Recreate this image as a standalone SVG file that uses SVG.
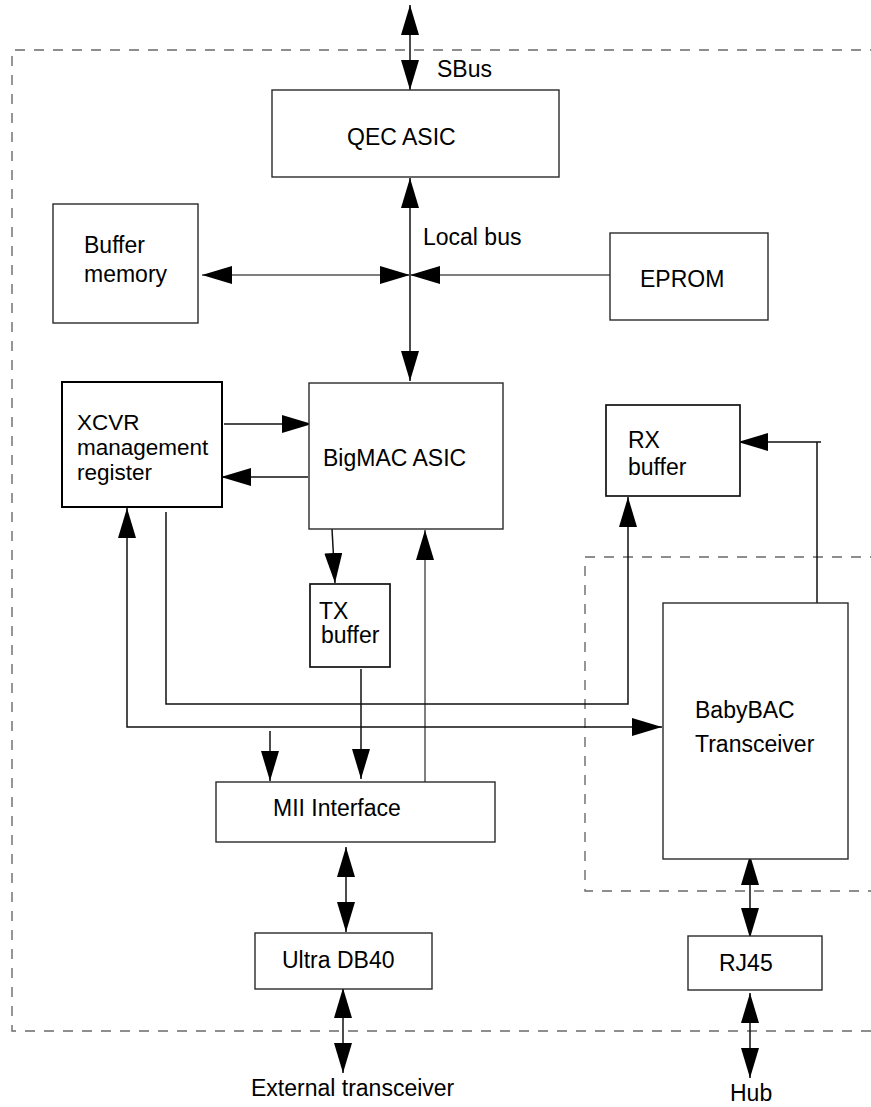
<svg xmlns="http://www.w3.org/2000/svg" width="871" height="1107" viewBox="0 0 871 1107">
<style>
.box{fill:#fff;stroke:#2a2a2a;stroke-width:1.4}
.bold{stroke:#000;stroke-width:2}
.t{font-family:"Liberation Sans",Arial,sans-serif;font-size:23px;fill:#000}
.ln{fill:none;stroke:#111;stroke-width:1.5}
.gl{fill:none;stroke:#555;stroke-width:1.5}
.ds{fill:none;stroke:#6a6a6a;stroke-width:1.4;stroke-dasharray:10 9}
</style>
<defs>
<marker id="ah" markerUnits="userSpaceOnUse" markerWidth="30" markerHeight="18" viewBox="0 0 30 18" refX="30" refY="9" orient="auto-start-reverse">
<path d="M0,0 L30,9 L0,18 z" fill="#000"/>
</marker>
</defs>
<g id="frames">
<path class="ds" d="M880,50 H12 V1031 H880"/>
<path class="ds" d="M880,557 H585 V891 H880"/>
</g>
<g id="connectors">
<line class="ln" x1="410" y1="5" x2="410" y2="90" marker-start="url(#ah)" marker-end="url(#ah)"/>
<line class="ln" x1="410" y1="178" x2="410" y2="381" marker-start="url(#ah)" marker-end="url(#ah)"/>
<line class="gl" x1="202" y1="275" x2="410" y2="275" marker-start="url(#ah)" marker-end="url(#ah)"/>
<line class="gl" x1="610" y1="275" x2="410" y2="275" marker-end="url(#ah)"/>
<line class="ln" x1="224" y1="424" x2="312" y2="424" marker-end="url(#ah)"/>
<line class="ln" x1="308" y1="477" x2="221" y2="477" marker-end="url(#ah)"/>
<line class="ln" x1="332" y1="529" x2="335" y2="583" marker-end="url(#ah)"/>
<line class="ln" x1="361" y1="669" x2="361" y2="779" marker-end="url(#ah)"/>
<line class="gl" x1="425" y1="782" x2="425" y2="530" marker-end="url(#ah)"/>
<path class="ln" d="M166,512 V704 H628 V497" marker-end="url(#ah)"/>
<path class="ln" d="M127,508 V727 H662" marker-start="url(#ah)" marker-end="url(#ah)"/>
<line class="ln" x1="270" y1="731" x2="270" y2="781" marker-end="url(#ah)"/>
<path class="ln" d="M817,603 V442 H821 M817,442 H738" marker-end="url(#ah)"/>
<line class="ln" x1="346" y1="847" x2="346" y2="932" marker-start="url(#ah)" marker-end="url(#ah)"/>
<line class="ln" x1="343" y1="988" x2="343" y2="1073" marker-start="url(#ah)" marker-end="url(#ah)"/>
<line class="ln" x1="750" y1="855" x2="750" y2="938" marker-start="url(#ah)" marker-end="url(#ah)"/>
<line class="ln" x1="750" y1="993" x2="750" y2="1078" marker-start="url(#ah)" marker-end="url(#ah)"/>
</g>
<g id="qec"><rect class="box" x="272" y="90" width="287" height="87"/><text class="t" x="347" y="145">QEC ASIC</text></g>
<g id="buffer-memory"><rect class="box" x="53" y="204" width="145" height="119"/><text class="t" x="84" y="253">Buffer</text><text class="t" x="84" y="282">memory</text></g>
<g id="eprom"><rect class="box" x="610" y="233" width="158" height="87"/><text class="t" x="640" y="287">EPROM</text></g>
<g id="xcvr"><rect class="box bold" x="62" y="382" width="160" height="125"/><text class="t" style="font-size:22.5px" x="77" y="430">XCVR</text><text class="t" style="font-size:22.5px" x="77" y="455">management</text><text class="t" style="font-size:22.5px" x="77" y="480">register</text></g>
<g id="bigmac"><rect class="box" x="309" y="383" width="194" height="146"/><text class="t" x="323" y="466">BigMAC ASIC</text></g>
<g id="rx-buffer"><rect class="box" style="stroke:#111;stroke-width:1.7" x="606" y="405" width="134" height="91"/><text class="t" x="628" y="448">RX</text><text class="t" x="628" y="475">buffer</text></g>
<g id="tx-buffer"><rect class="box" style="stroke:#111;stroke-width:1.7" x="310" y="584" width="80" height="83"/><text class="t" x="319" y="619">TX</text><text class="t" x="321" y="643">buffer</text></g>
<g id="mii"><rect class="box" x="216" y="782" width="279" height="60"/><text class="t" x="273" y="816">MII Interface</text></g>
<g id="ultra-db40"><rect class="box" x="255" y="933" width="177" height="56"/><text class="t" x="282" y="968">Ultra DB40</text></g>
<g id="babybac"><rect class="box" x="663" y="603" width="185" height="256"/><text class="t" x="695" y="718">BabyBAC</text><text class="t" x="695" y="752">Transceiver</text></g>
<g id="rj45"><rect class="box" x="688" y="936" width="134" height="54"/><text class="t" x="719" y="971">RJ45</text></g>
<g id="labels">
<text class="t" x="437" y="77">SBus</text>
<text class="t" x="423" y="245">Local bus</text>
<text class="t" x="251" y="1096">External transceiver</text>
<text class="t" x="730" y="1101">Hub</text>
</g>
</svg>
